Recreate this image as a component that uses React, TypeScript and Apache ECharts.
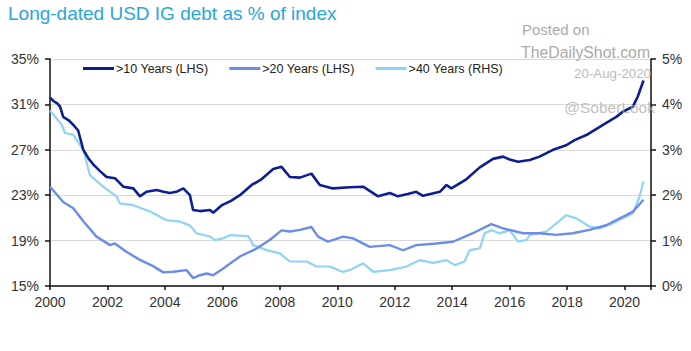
import React, { useEffect, useRef } from 'react';
import * as echarts from 'echarts';

const TITLE = 'Long-dated USD IG debt as % of index';
const SERIES_NAMES = ['>10 Years (LHS)', '>20 Years (LHS)', '>40 Years (RHS)'];
const SERIES_COLORS = ['#0d1f90', '#6b8de6', '#8fd3f5'];
const WATERMARK = ['Posted on', 'TheDailyShot.com', '20-Aug-2020', '@SoberLook'];

// [year, % of index]
const over10: [number, number][] = [
  [2000.0, 31.6], [2000.12, 31.3], [2000.25, 31.1], [2000.35, 30.8], [2000.46, 29.9], [2000.65, 29.6], [2000.81, 29.2],
  [2000.98, 28.7], [2001.16, 27.0], [2001.35, 26.2], [2001.51, 25.7], [2001.75, 25.1], [2001.97, 24.6],
  [2002.26, 24.5], [2002.55, 23.75], [2002.9, 23.6], [2003.13, 22.9], [2003.36, 23.3], [2003.71, 23.45],
  [2003.95, 23.3], [2004.17, 23.2], [2004.4, 23.3], [2004.64, 23.6], [2004.87, 23.0], [2004.98, 21.7],
  [2005.22, 21.6], [2005.57, 21.7], [2005.68, 21.45], [2005.97, 22.1], [2006.3, 22.5], [2006.61, 23.0],
  [2007.02, 23.9], [2007.36, 24.4], [2007.77, 25.3], [2008.06, 25.5], [2008.35, 24.6], [2008.7, 24.55],
  [2009.1, 24.9], [2009.39, 23.9], [2009.85, 23.6], [2010.43, 23.7], [2010.9, 23.75], [2011.42, 22.9],
  [2011.83, 23.2], [2012.11, 22.9], [2012.45, 23.1], [2012.75, 23.3], [2012.98, 22.95], [2013.57, 23.3],
  [2013.8, 23.9], [2013.97, 23.6], [2014.49, 24.4], [2014.96, 25.45], [2015.42, 26.2], [2015.77, 26.4],
  [2016.0, 26.15], [2016.29, 25.95], [2016.7, 26.1], [2017.04, 26.4], [2017.51, 27.0], [2017.97, 27.4],
  [2018.26, 27.85], [2018.67, 28.3], [2019.25, 29.2], [2019.71, 29.9], [2019.94, 30.35], [2020.29, 30.8],
  [2020.46, 31.7], [2020.66, 33.1],
];

const over20: [number, number][] = [
  [2000.0, 23.75], [2000.46, 22.4], [2000.81, 21.85], [2001.16, 20.7], [2001.62, 19.35], [2002.09, 18.6],
  [2002.26, 18.75], [2002.67, 18.0], [2003.13, 17.3], [2003.59, 16.75], [2003.94, 16.2], [2004.29, 16.25],
  [2004.75, 16.4], [2004.98, 15.7], [2005.22, 15.95], [2005.45, 16.1], [2005.68, 15.95], [2006.03, 16.55],
  [2006.61, 17.6], [2007.19, 18.3], [2007.65, 19.05], [2008.06, 19.9], [2008.35, 19.8], [2008.7, 19.95],
  [2009.1, 20.2], [2009.33, 19.35], [2009.68, 18.9], [2010.2, 19.35], [2010.55, 19.2], [2011.13, 18.45],
  [2011.83, 18.6], [2012.29, 18.15], [2012.75, 18.6], [2013.45, 18.75], [2014.03, 18.9], [2014.72, 19.65],
  [2015.36, 20.45], [2015.77, 20.08], [2016.46, 19.65], [2017.04, 19.65], [2017.62, 19.5], [2018.2, 19.65],
  [2018.78, 19.95], [2019.36, 20.35], [2019.94, 21.1], [2020.29, 21.55], [2020.66, 22.6],
];

const over40: [number, number][] = [
  [2000.0, 3.86], [2000.41, 3.55], [2000.52, 3.37], [2000.81, 3.33], [2001.16, 3.0], [2001.39, 2.44],
  [2001.85, 2.19], [2002.32, 1.97], [2002.43, 1.82], [2002.9, 1.78], [2003.48, 1.64], [2004.06, 1.45],
  [2004.52, 1.42], [2004.87, 1.33], [2005.1, 1.16], [2005.57, 1.09], [2005.74, 1.01], [2006.03, 1.05],
  [2006.26, 1.12], [2006.9, 1.1], [2007.07, 0.9], [2007.54, 0.79], [2008.0, 0.72], [2008.35, 0.54],
  [2008.93, 0.54], [2009.28, 0.43], [2009.74, 0.43], [2010.2, 0.31], [2010.43, 0.35], [2010.9, 0.5],
  [2011.25, 0.31], [2011.83, 0.35], [2012.41, 0.43], [2012.87, 0.57], [2013.33, 0.51], [2013.8, 0.57],
  [2014.09, 0.46], [2014.43, 0.54], [2014.61, 0.79], [2014.96, 0.83], [2015.13, 1.16], [2015.36, 1.23],
  [2015.65, 1.16], [2016.0, 1.23], [2016.29, 0.98], [2016.58, 1.01], [2016.7, 1.12], [2017.28, 1.2],
  [2017.97, 1.56], [2018.32, 1.49], [2018.78, 1.31], [2019.13, 1.27], [2019.59, 1.38], [2019.94, 1.49],
  [2020.29, 1.6], [2020.52, 1.97], [2020.66, 2.3],
];

const X_MIN = 2000;
const X_MAX = 2020.92;
const X_STEP = 2;
const LEFT_MIN = 15;
const LEFT_MAX = 35;
const LEFT_STEP = 4;
const RIGHT_MIN = 0;
const RIGHT_MAX = 5;
const RIGHT_STEP = 1;

const FONT = 'Liberation Sans, Arial, sans-serif';

export default function App() {
  const ref = useRef<HTMLDivElement>(null);
  useEffect(() => {
    if (!ref.current) return;
    const chart = echarts.init(ref.current, undefined, { renderer: 'svg' });
    const axisText = { color: '#333', fontSize: 14, fontFamily: FONT };
    chart.setOption({
      animation: false,
      backgroundColor: '#ffffff',
      textStyle: { fontFamily: FONT },
      title: {
        text: TITLE,
        left: 8,
        top: 4,
        padding: 0,
        textStyle: { color: '#2aa5dd', fontSize: 19, fontWeight: 'normal', fontFamily: FONT },
      },
      legend: {
        left: 83,
        top: 62,
        padding: 0,
        itemWidth: 31,
        itemHeight: 3,
        itemGap: 21,
        icon: 'rect',
        textStyle: { color: '#222', fontSize: 12.5, fontFamily: FONT, padding: [0, 0, 0, -3] },
        data: SERIES_NAMES,
      },
      grid: { left: 50, right: 40, top: 59, bottom: 65, containLabel: false },
      xAxis: {
        type: 'value',
        min: X_MIN,
        max: X_MAX,
        interval: X_STEP,
        axisLine: { show: true, lineStyle: { color: '#111', width: 1.5 } },
        axisTick: { show: true, length: 4, lineStyle: { color: '#111', width: 1.5 } },
        splitLine: { show: false },
        axisLabel: {
          ...axisText,
          margin: 9,
          formatter: (v: number) => (Number.isInteger(v) && v % 2 === 0 ? String(v) : ''),
        },
      },
      yAxis: [
        {
          type: 'value',
          min: LEFT_MIN,
          max: LEFT_MAX,
          interval: LEFT_STEP,
          position: 'left',
          axisLine: { show: true, lineStyle: { color: '#111', width: 1.5 } },
          axisTick: { show: true, length: 5, lineStyle: { color: '#111', width: 1.5 } },
          splitLine: { show: true, lineStyle: { color: '#dadada', width: 1.2 } },
          axisLabel: { ...axisText, margin: 11, formatter: (v: number) => `${v}%` },
        },
        {
          type: 'value',
          min: RIGHT_MIN,
          max: RIGHT_MAX,
          interval: RIGHT_STEP,
          position: 'right',
          axisLine: { show: true, lineStyle: { color: '#111', width: 1.5 } },
          axisTick: { show: true, length: 5, lineStyle: { color: '#111', width: 1.5 } },
          splitLine: { show: false },
          axisLabel: { ...axisText, margin: 11, formatter: (v: number) => `${v}%` },
        },
      ],
      series: [
        {
          name: SERIES_NAMES[2],
          type: 'line',
          yAxisIndex: 1,
          data: over40,
          showSymbol: false,
          symbol: 'none',
          lineStyle: { color: SERIES_COLORS[2], width: 2.2 },
          itemStyle: { color: SERIES_COLORS[2] },
          z: 2,
        },
        {
          name: SERIES_NAMES[1],
          type: 'line',
          yAxisIndex: 0,
          data: over20,
          showSymbol: false,
          symbol: 'none',
          lineStyle: { color: SERIES_COLORS[1], width: 2.4 },
          itemStyle: { color: SERIES_COLORS[1] },
          z: 3,
        },
        {
          name: SERIES_NAMES[0],
          type: 'line',
          yAxisIndex: 0,
          data: over10,
          showSymbol: false,
          symbol: 'none',
          lineStyle: { color: SERIES_COLORS[0], width: 2.6 },
          itemStyle: { color: SERIES_COLORS[0] },
          z: 4,
        },
      ],
      graphic: [
        {
          type: 'text', x: 522, y: 29, z: 100,
          style: { text: WATERMARK[0], fill: '#aaaaaa', fontSize: 15, fontFamily: FONT, textAlign: 'left', textVerticalAlign: 'middle' },
        },
        {
          type: 'text', x: 521, y: 52, z: 100,
          style: { text: WATERMARK[1], fill: '#aaaaaa', fontSize: 15.8, fontFamily: FONT, textAlign: 'left', textVerticalAlign: 'middle' },
        },
        {
          type: 'text', x: 651, y: 73, z: 100,
          style: { text: WATERMARK[2], fill: '#bbbbbb', fontSize: 13.3, fontFamily: FONT, textAlign: 'right', textVerticalAlign: 'middle' },
        },
        {
          type: 'text', x: 655, y: 107, z: 100,
          style: { text: WATERMARK[3], fill: 'rgba(170,170,170,0.75)', fontSize: 15.5, fontFamily: FONT, textAlign: 'right', textVerticalAlign: 'middle' },
        },
      ],
    });
    return () => chart.dispose();
  }, []);
  return (
    <div
      ref={ref}
      style={{ position: 'fixed', left: 0, top: 0, width: 691, height: 351, background: '#fff' }}
    />
  );
}
